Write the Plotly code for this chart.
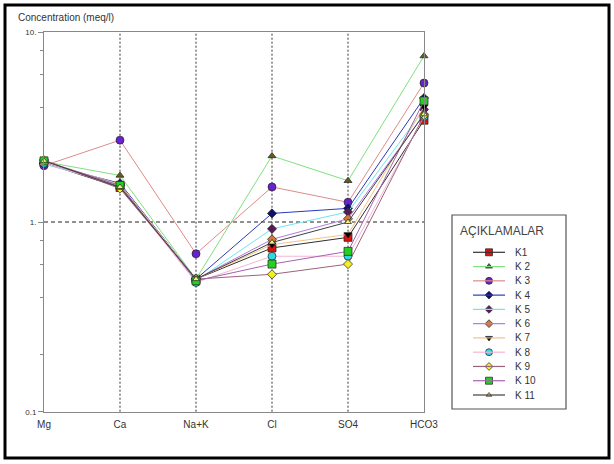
import plotly.graph_objects as go

W, H = 614, 464

categories = ["Mg", "Ca", "Na+K", "Cl", "SO4", "HCO3"]
series_names = ["K1", "K 2", "K 3", "K 4", "K 5", "K 6", "K 7", "K 8", "K 9", "K 10", "K 11"]

K1 = [2.05, 1.52, 0.50, 0.73, 0.83, 3.44]
K2 = [2.08, 1.76, 0.50, 2.23, 1.65, 7.50]
K3 = [1.98, 2.70, 0.68, 1.53, 1.27, 5.40]
K4 = [2.03, 1.60, 0.50, 1.11, 1.18, 4.50]
K5 = [2.02, 1.57, 0.49, 0.92, 1.13, 3.92]
K6 = [2.05, 1.55, 0.50, 0.81, 1.04, 3.70]
K7 = [2.08, 1.58, 0.50, 0.76, 0.86, 4.05]
K8 = [2.04, 1.55, 0.48, 0.66, 0.66, 3.60]
K9 = [2.12, 1.50, 0.50, 0.53, 0.60, 3.65]
K10 = [2.10, 1.56, 0.49, 0.60, 0.70, 4.35]
K11 = [2.10, 1.53, 0.50, 0.78, 1.00, 3.70]
values = [K1, K2, K3, K4, K5, K6, K7, K8, K9, K10, K11]

line_colors = ["#303030", "#7fe07f", "#e08a8a", "#2a3ab8", "#6fe6ee", "#b07ae0",
               "#f3c285", "#f2b6d6", "#9a6478", "#a563b0", "#404040"]
marker_colors = ["#e01010", "#6b5a20", "#6a22d0", "#10106e", "#5a1a5a", "#d27a35",
                 "#000000", "#30d8e2", "#f2f020", "#22d022", "#f2f080"]
symbols = ["square", "triangle-up", "circle", "diamond", "diamond", "diamond",
           "triangle-down", "circle", "diamond", "square", "triangle-up"]
sizes = [8, 7, 8, 7, 7, 7, 7, 8, 7, 8, 6]

FONT = "Liberation Sans, Arial, sans-serif"

def px(x):
    return x / W

def py(y):
    return 1 - y / H

fig = go.Figure()
xs = list(range(len(categories)))
for name, vals, lc, mc, sym, sz in zip(series_names, values, line_colors, marker_colors, symbols, sizes):
    fig.add_trace(go.Scatter(
        x=xs, y=vals, mode="lines+markers", name=name, showlegend=False,
        line=dict(color=lc, width=1),
        marker=dict(symbol=sym, color=mc, size=sz, line=dict(color="#202020", width=0.7)),
        cliponaxis=False, xaxis="x", yaxis="y"))

# manual legend
leg_x0, leg_x1, leg_y0, leg_y1 = 452, 566, 215, 409
item_y0, item_dy = 252.3, 14.27
for i, (name, lc, mc, sym, sz) in enumerate(zip(series_names, line_colors, marker_colors, symbols, sizes)):
    yy = item_y0 + i * item_dy
    fig.add_shape(type="line", xref="paper", yref="paper", x0=px(473), x1=px(505),
                  y0=py(yy), y1=py(yy), line=dict(color=lc, width=1.2))
    fig.add_trace(go.Scatter(
        x=[489], y=[yy], mode="markers", showlegend=False, hoverinfo="skip",
        marker=dict(symbol=sym, color=mc, size=sz - 1, line=dict(color="#202020", width=0.7)),
        xaxis="x2", yaxis="y2", cliponaxis=False))
    fig.add_annotation(x=px(513), y=py(yy), xref="paper", yref="paper", text=name,
                       showarrow=False, xanchor="left", yanchor="middle",
                       font=dict(family=FONT, size=10, color="#333333"))

fig.add_shape(type="rect", xref="paper", yref="paper", x0=px(leg_x0), x1=px(leg_x1),
              y0=py(leg_y0), y1=py(leg_y1), line=dict(color="#555555", width=1.2))
fig.add_annotation(x=px(458), y=py(231), xref="paper", yref="paper", text="AÇIKLAMALAR",
                   showarrow=False, xanchor="left", yanchor="middle",
                   font=dict(family=FONT, size=12, color="#444444"))

# grid lines
for i in range(1, 5):
    fig.add_shape(type="line", xref="x", yref="y domain", x0=i, x1=i, y0=0, y1=1,
                  line=dict(color="#333333", width=1, dash="2px,2px"), layer="below")
fig.add_shape(type="line", xref="x domain", yref="y domain", x0=0, x1=1, y0=0.5, y1=0.5,
              line=dict(color="#222222", width=1, dash="4px,3px"), layer="below")

# outer frame
fig.add_shape(type="rect", xref="paper", yref="paper", x0=px(5), x1=px(609),
              y0=py(5), y1=py(458), line=dict(color="#000000", width=3))

fig.add_annotation(x=px(16), y=py(17), xref="paper", yref="paper",
                   text="Concentration (meq/l)", showarrow=False,
                   xanchor="left", yanchor="middle",
                   font=dict(family=FONT, size=10, color="#333333"))

fig.update_layout(
    width=W, height=H, autosize=False,
    margin=dict(l=0, r=0, t=0, b=0, pad=0, autoexpand=False),
    paper_bgcolor="white", plot_bgcolor="rgba(0,0,0,0)",
    font=dict(family=FONT, size=10, color="#333333"),
    showlegend=False,
    xaxis=dict(domain=[px(44), px(424)], range=[0, 5], tickvals=xs, ticktext=categories,
               showgrid=False, zeroline=False, showline=True, linecolor="#888888",
               linewidth=1, mirror=True, ticks="", tickfont=dict(size=10), anchor="y",
               automargin=False, ticklabelstandoff=3),
    yaxis=dict(domain=[py(411.7), py(32.3)], type="log", range=[-1, 1],
               tickvals=[0.1, 1, 10], ticktext=["0.1", "1.", "10."],
               showgrid=False, zeroline=False, showline=True, linecolor="#888888",
               linewidth=1, mirror=True, ticks="outside", ticklen=5, tickcolor="#888888",
               tickfont=dict(size=8),
               minor=dict(tickvals=[0.2, 0.4, 0.6, 0.8, 2, 4, 6, 8], ticks="outside",
                          ticklen=3, tickcolor="#888888", showgrid=False),
               anchor="x", automargin=False),
    xaxis2=dict(domain=[0, 1], range=[0, W], visible=False, anchor="y2", automargin=False),
    yaxis2=dict(domain=[0, 1], range=[H, 0], visible=False, anchor="x2", automargin=False),
)

fig.write_html("out.html", config={"displayModeBar": False},
               post_script="document.body.style.margin='0';document.body.style.overflow='hidden';")
